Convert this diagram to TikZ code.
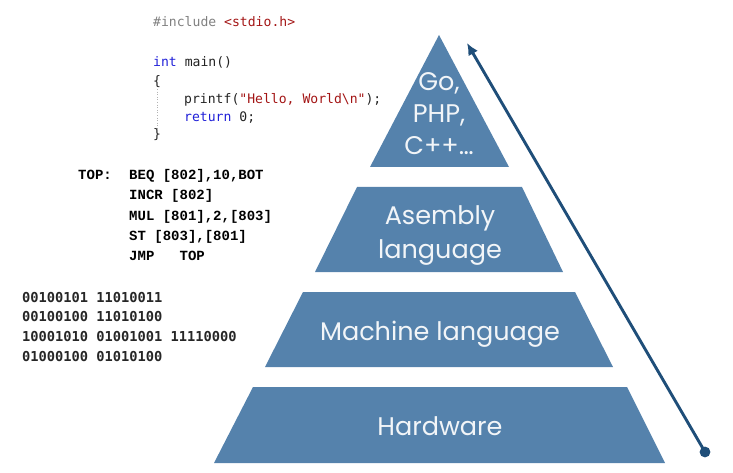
\documentclass[tikz,border=0pt]{standalone}
\usepackage{fontspec}
\setmainfont{Poppins}
\newfontfamily\codefont{DejaVu Sans Mono}
\newfontfamily\asmfont{Liberation Mono}
\newfontfamily\binfont{DejaVu Sans Mono}
\usetikzlibrary{arrows.meta}
\definecolor{pyrblue}{HTML}{5582AC}
\definecolor{arrblue}{HTML}{1F4E79}
\definecolor{cgray}{HTML}{808080}
\definecolor{cred}{HTML}{A31515}
\definecolor{cblue}{HTML}{2020D8}
\definecolor{ctext}{HTML}{222222}
\definecolor{lbltext}{HTML}{F2F5F8}
\tikzset{
  layer/.style={fill=pyrblue},
  lbl/.style={anchor=base,inner sep=0pt,text=lbltext,font=\fontsize{25.5}{25.5}\selectfont},
  code/.style={anchor=base west,inner sep=0pt,text=ctext,font=\codefont\fontsize{13.1}{13.1}\selectfont},
  asm/.style={anchor=base west,inner sep=0pt,text=black,font=\asmfont\bfseries\fontsize{14}{14}\selectfont},
  bin/.style={anchor=base west,inner sep=0pt,text=black!85,font=\binfont\bfseries\fontsize{13.7}{13.7}\selectfont},
  arr/.style={draw=arrblue,line width=2.9pt,-{Latex[length=12pt,width=11pt]}}
}
\begin{document}
\begin{tikzpicture}[x=1pt,y=-1pt]
\useasboundingbox (0,0) rectangle (733,473);
% pyramid layers
\fill[layer] (439,35) -- (509,167) -- (370,167) -- cycle;
\fill[layer] (357,187) -- (522,187) -- (563,272) -- (315,272) -- cycle;
\fill[layer] (303,292) -- (575,292) -- (613,367) -- (265,367) -- cycle;
\fill[layer] (253,387) -- (627,387) -- (665,463) -- (214,463) -- cycle;
% labels
\node[lbl] (go) at (439,91) {Go,};
\node[lbl] (php) at (439,123) {PHP,};
\node[lbl] (cpp) at (439,155) {C++…};
\node[lbl] (asb) at (440,224) {Asembly};
\node[lbl] (lang) at (440,258) {language};
\node[lbl] (mach) at (440,340) {Machine language};
\node[lbl] (hw) at (440,435) {Hardware};
% arrow
\coordinate (tail) at (705,452);
\coordinate (tip) at (467,43);
\draw[arr] (tail) -- (tip);
\fill[arrblue] (tail) circle (5.4);
% C code
\draw[cgray!60,dotted,line width=0.6pt] (157,89) -- (157,129);
\node[code] (c1) at (153,26.5) {\textcolor{cgray}{\#include} \textcolor{cred}{<stdio.h>}};
\node[code] (c2) at (153,66.5) {\textcolor{cblue}{int} main()};
\node[code] (c3) at (153,85.5) {\{};
\node[code] (c4) at (184,103.5) {printf(\textcolor{cred}{"Hello, World\textbackslash n"});};
\node[code] (c5) at (184,121.5) {\textcolor{cblue}{return} 0;};
\node[code] (c6) at (153,139) {\}};
% assembly
\node[asm] (a0) at (78,180) {TOP:};
\node[asm] (a1) at (129,180) {BEQ [802],10,BOT};
\node[asm] (a2) at (129,200) {INCR [802]};
\node[asm] (a3) at (129,220) {MUL [801],2,[803]};
\node[asm] (a4) at (129,240.5) {ST [803],[801]};
\node[asm] (a5) at (129,260.5) {JMP\ \ \ TOP};
% machine code
\node[bin] (b1) at (22,302) {00100101 11010011};
\node[bin] (b2) at (22,321) {00100100 11010100};
\node[bin] (b3) at (22,341) {10001010 01001001 11110000};
\node[bin] (b4) at (22,361) {01000100 01010100};
\end{tikzpicture}
\end{document}
